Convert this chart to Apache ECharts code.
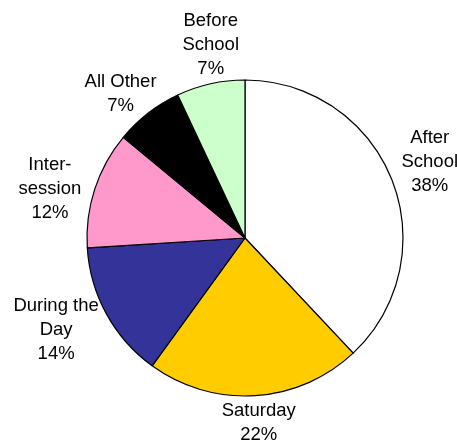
<!DOCTYPE html>
<html>
<head>
<meta charset="utf-8">
<script src="https://cdn.jsdelivr.net/npm/echarts@6/dist/echarts.min.js"></script>
<style>
  html, body { margin: 0; padding: 0; background: #fff; }
  #chart { width: 457px; height: 440px; }
</style>
</head>
<body>
<div id="chart"></div>
<script>
// Share of program hours by time slot
const categories = ['After\nSchool', 'Saturday', 'During the\nDay', 'Inter-\nsession', 'All Other', 'Before\nSchool'];
const shares = [38, 22, 14, 12, 7, 7];
const sliceColors = ['#FFFFFF', '#FFCC00', '#333399', '#FF99CC', '#000000', '#CCFFCC'];

// fine placement of each caption around the ring
const labelNudges = [[-4, -1], [1, -18], [-11, -6], [-2, 14], [0, 16], [10, 5]];

const center = [245, 238];
const pieData = categories.map((name, i) => ({
  name,
  value: shares[i],
  itemStyle: { color: sliceColors[i] }
}));

const baseFont = 'Liberation Sans, Arial, sans-serif';
const narrowFont = '"Liberation Sans Narrow", "Arial Narrow", Liberation Sans, Arial, sans-serif';

const chart = echarts.init(document.getElementById('chart'), null, { renderer: 'canvas' });
chart.setOption({
  animation: false,
  backgroundColor: '#fff',
  series: [
    {
      type: 'pie',
      center: center,
      radius: [0, 158],
      startAngle: 90,
      clockwise: true,
      silent: true,
      data: pieData,
      itemStyle: { borderColor: '#000', borderWidth: 1.2 },
      label: { show: false },
      labelLine: { show: false }
    },
    {
      // invisible ring that carries the category labels around the pie
      type: 'pie',
      center: center,
      radius: [196, 204],
      startAngle: 90,
      clockwise: true,
      silent: true,
      data: pieData.map((d, i) => ({
        name: d.name,
        value: d.value,
        label: {
          offset: labelNudges[i],
          fontFamily: i === 0 ? narrowFont : baseFont
        }
      })),
      itemStyle: { color: 'transparent', borderWidth: 0 },
      label: {
        show: true,
        position: 'inside',
        rotate: 0,
        overflow: 'none',
        formatter: p => p.name + '\n' + p.value + '%',
        fontFamily: baseFont,
        fontSize: 18.5,
        lineHeight: 24,
        color: '#000',
        align: 'center'
      },
      labelLine: { show: false }
    }
  ]
});
</script>
</body>
</html>
